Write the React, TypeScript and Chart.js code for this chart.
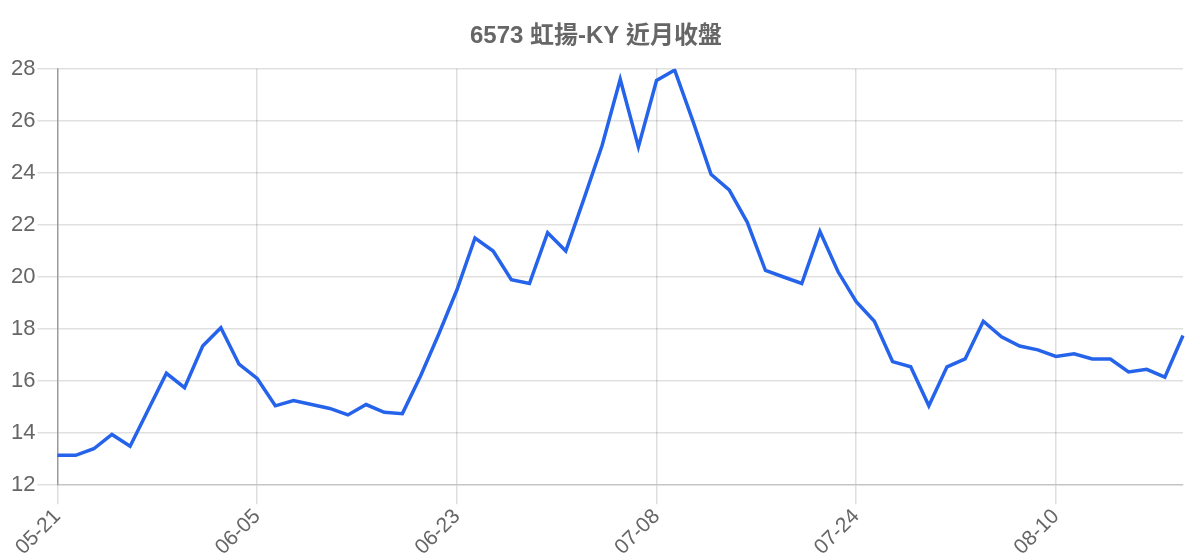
import { useEffect, useRef } from "react";
import Chart from "chart.js/auto";

const TITLE = "6573 虹揚-KY 近月收盤";

const dates = [
  "05-21", "05-22", "05-23", "05-24", "05-27", "05-28", "05-29", "05-30", "05-31", "06-03", "06-04",
  "06-05", "06-06", "06-07", "06-11", "06-12", "06-13", "06-14", "06-17", "06-18", "06-19", "06-20",
  "06-23", "06-24", "06-25", "06-26", "06-27", "06-28", "07-01", "07-02", "07-03", "07-04", "07-05",
  "07-08", "07-09", "07-10", "07-11", "07-12", "07-15", "07-16", "07-17", "07-18", "07-19", "07-22",
  "07-24", "07-25", "07-26", "07-29", "07-30", "07-31", "08-01", "08-02", "08-05", "08-06", "08-07",
  "08-10", "08-12", "08-13", "08-14", "08-15", "08-16", "08-19", "08-20",
];

const closes = [
  13.15, 13.15, 13.4, 13.95, 13.5, 14.9, 16.3, 15.75, 17.35, 18.05, 16.65,
  16.1, 15.05, 15.25, 15.1, 14.95, 14.7, 15.1, 14.8, 14.75, 16.2, 17.8,
  19.5, 21.5, 21.0, 19.9, 19.75, 21.7, 21.0, 23.0, 25.05, 27.6, 25.0,
  27.55, 27.95, 26.0, 23.95, 23.35, 22.1, 20.25, 20.0, 19.75, 21.75, 20.2,
  19.05, 18.3, 16.75, 16.55, 15.05, 16.55, 16.85, 18.3, 17.7, 17.35, 17.2,
  16.95, 17.05, 16.85, 16.85, 16.35, 16.45, 16.15, 17.75,
];

const FONT = "'Liberation Sans', Arial, 'Noto Sans CJK TC', sans-serif";

export default function App() {
  const canvasRef = useRef<HTMLCanvasElement | null>(null);

  useEffect(() => {
    document.body.style.margin = "0";
    const canvas = canvasRef.current;
    if (!canvas) return;

    const chart = new Chart(canvas, {
      type: "line",
      data: {
        labels: dates,
        datasets: [
          {
            label: "收盤",
            data: closes,
            borderColor: "#2563eb",
            backgroundColor: "#2563eb",
            borderWidth: 3.5,
            pointRadius: 0,
            tension: 0,
            fill: false,
          },
        ],
      },
      options: {
        responsive: true,
        maintainAspectRatio: false,
        animation: false,
        layout: {
          padding: { left: 9, right: 17, top: 0, bottom: 0 },
        },
        plugins: {
          legend: { display: false },
          tooltip: { enabled: false },
          title: {
            display: true,
            text: TITLE,
            color: "#666",
            font: { family: FONT, size: 24, weight: "bold" },
            padding: { top: 22, bottom: 18 },
          },
        },
        scales: {
          x: {
            ticks: {
              color: "#666",
              font: { family: FONT, size: 21 },
              minRotation: 45,
              maxRotation: 45,
              maxTicksLimit: 6,
              padding: 0,
            },
            grid: { tickLength: 19, color: "rgba(0,0,0,0.13)", lineWidth: 1.5 },
            border: { color: "rgba(0,0,0,0.12)", width: 1.5 },
          },
          y: {
            min: 12,
            max: 28,
            ticks: {
              stepSize: 2,
              color: "#666",
              font: { family: FONT, size: 22 },
              padding: 2,
            },
            grid: { tickLength: 20, color: "rgba(0,0,0,0.12)", lineWidth: 1.5 },
            border: { color: "rgba(0,0,0,0.3)", width: 1.5 },
          },
        },
      },
    });

    return () => {
      chart.destroy();
    };
  }, []);

  return (
    <div style={{ position: "relative", width: 1200, height: 560 }}>
      <canvas ref={canvasRef} />
    </div>
  );
}
